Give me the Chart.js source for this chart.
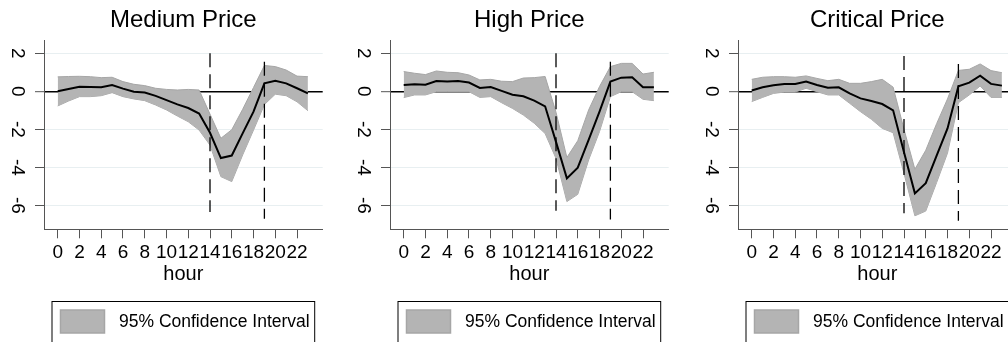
<!DOCTYPE html>
<html>
<head>
<meta charset="utf-8">
<title>Price response by hour</title>
<script src="https://cdn.jsdelivr.net/npm/chart.js@4/dist/chart.umd.min.js"></script>
<style>
  html, body { margin: 0; padding: 0; background: #fff; width: 1008px; height: 342px; overflow: hidden; }
  .panel { position: absolute; top: 0; }
</style>
</head>
<body>
<canvas class="panel" id="medium-chart" width="346" height="342" style="left:0px"></canvas>
<canvas class="panel" id="high-chart" width="346" height="342" style="left:346px"></canvas>
<canvas class="panel" id="critical-chart" width="346" height="342" style="left:694px"></canvas>
<script>
'use strict';

const hours = [0, 1, 2, 3, 4, 5, 6, 7, 8, 9, 10, 11, 12, 13, 14, 15, 16, 17, 18, 19, 20, 21, 22, 23];
const xTicks = [0, 2, 4, 6, 8, 10, 12, 14, 16, 18, 20, 22];
const yTicks = [-6, -4, -2, 0, 2];
const cutHours = [14, 19];

const mediumMean = [0.00, 0.12, 0.24, 0.23, 0.21, 0.33, 0.14, -0.02, -0.06, -0.24, -0.46, -0.69, -0.88, -1.17, -2.18, -3.51, -3.38, -2.21, -1.07, 0.42, 0.56, 0.42, 0.16, -0.11];
const mediumUpper = [0.76, 0.78, 0.79, 0.77, 0.72, 0.74, 0.51, 0.37, 0.30, 0.16, 0.10, 0.07, 0.10, 0.07, -1.20, -2.47, -2.02, -0.95, 0.20, 1.36, 1.30, 1.12, 0.80, 0.77];
const mediumLower = [-0.77, -0.51, -0.28, -0.28, -0.23, -0.07, -0.28, -0.40, -0.49, -0.72, -0.98, -1.30, -1.60, -2.04, -2.83, -4.49, -4.75, -3.35, -2.04, -0.70, -0.15, -0.23, -0.55, -1.02];
const mediumCutTop = [2.0, 1.55];
const mediumCutBottom = [-6.35, -6.7];

const highMean = [0.33, 0.37, 0.35, 0.54, 0.51, 0.54, 0.46, 0.18, 0.23, 0.02, -0.18, -0.26, -0.49, -0.79, -2.66, -4.58, -4.02, -2.56, -1.07, 0.51, 0.72, 0.74, 0.21, 0.21];
const highUpper = [1.04, 0.95, 0.88, 1.07, 1.00, 0.98, 0.86, 0.60, 0.63, 0.53, 0.51, 0.70, 0.72, 0.78, -1.10, -3.48, -2.60, -0.98, 0.25, 1.30, 1.47, 1.47, 0.91, 1.00];
const highLower = [-0.33, -0.19, -0.19, -0.02, -0.02, -0.02, -0.02, -0.32, -0.28, -0.60, -0.90, -1.25, -1.68, -2.22, -3.53, -5.80, -5.42, -3.61, -2.12, -0.28, -0.02, -0.02, -0.42, -0.49];
const highCutTop = [2.0, 1.56];
const highCutBottom = [-6.28, -6.74];

const criticalMean = [0.04, 0.21, 0.32, 0.39, 0.39, 0.51, 0.33, 0.19, 0.21, -0.11, -0.37, -0.51, -0.67, -1.00, -3.20, -5.37, -4.83, -3.38, -1.95, 0.26, 0.46, 0.82, 0.39, 0.30];
const criticalUpper = [0.63, 0.74, 0.77, 0.77, 0.74, 0.81, 0.68, 0.56, 0.63, 0.42, 0.42, 0.51, 0.63, 0.22, -2.00, -4.10, -3.10, -1.70, -0.40, 1.10, 1.16, 1.44, 1.09, 0.98];
const criticalLower = [-0.54, -0.32, -0.11, -0.04, -0.04, 0.16, -0.02, -0.19, -0.19, -0.63, -1.07, -1.47, -1.95, -2.18, -4.32, -6.55, -6.30, -4.80, -3.25, -0.60, -0.19, 0.28, -0.32, -0.32];
const criticalCutTop = [1.86, 1.44];
const criticalCutBottom = [-6.42, -6.81];

const fontFamily = '"Liberation Sans", Arial, sans-serif';
const bandColor = '#b4b4b4';
const bandEdge = '#a6a6a6';
const axisColor = '#555';

const toPoints = function(values){
  return hours.map((h, i) => ({x: h, y: values[i]}));
};

// stata-style legend: framed swatch + label under the plot
const legendBox = {
  id: 'legendBox',
  afterDraw(chart){
    const {ctx, chartArea} = chart;
    const band = chart.data.datasets.find(ds => ds.label);
    const left = chartArea.left;
    ctx.save();
    ctx.strokeStyle = '#000';
    ctx.lineWidth = 1;
    ctx.strokeRect(left + 8, 301.5, chartArea.right - left - 16, 60);
    ctx.fillStyle = band.backgroundColor;
    ctx.fillRect(left + 16.5, 310, 44, 23);
    ctx.strokeStyle = band.borderColor;
    ctx.lineWidth = 1.5;
    ctx.strokeRect(left + 16.5, 310, 44, 23);
    ctx.fillStyle = '#000';
    ctx.font = '17.5px ' + fontFamily;
    ctx.textBaseline = 'middle';
    ctx.textAlign = 'left';
    ctx.fillText(band.label, left + 75, 322.5);
    ctx.restore();
  }
};

const makePanel = function(canvasId, title, mean, upper, lower, cutTop, cutBottom){
  const cutSets = cutHours.map((h, k) => ({
    data: [{x: h, y: cutTop[k]}, {x: h, y: cutBottom[k]}],
    borderColor: '#000',
    borderWidth: 1.3,
    borderDash: [14, 7],
    pointRadius: 0,
    fill: false,
    order: 1
  }));

  new Chart(document.getElementById(canvasId), {
    type: 'line',
    data: {
      datasets: [{
        data: toPoints(mean),
        borderColor: '#000',
        borderWidth: 2,
        pointRadius: 0,
        fill: false,
        order: 0
      },
      ...cutSets,
      {
        label: '95% Confidence Interval',
        data: toPoints(upper),
        borderColor: bandEdge,
        borderWidth: 1,
        backgroundColor: bandColor,
        pointRadius: 0,
        fill: '+1',
        order: 2
      }, {
        data: toPoints(lower),
        borderColor: bandEdge,
        borderWidth: 1,
        pointRadius: 0,
        fill: false,
        order: 2
      }]
    },
    options: {
      responsive: false,
      animation: false,
      events: [],
      layout: { padding: { left: 0, right: 23.3, top: 0, bottom: 0 } },
      plugins: {
        legend: { display: false },
        tooltip: { enabled: false },
        title: {
          display: true,
          text: title,
          color: '#000',
          fullSize: false,
          font: { family: fontFamily, size: 24, weight: 'normal', lineHeight: 1.2 },
          padding: { top: 5.5, bottom: 5.7 }
        }
      },
      scales: {
        x: {
          type: 'linear',
          min: -1.26,
          max: 24.36,
          afterBuildTicks: scale => { scale.ticks = xTicks.map(v => ({value: v})); },
          afterFit: scale => { scale.height = 112.7; },
          border: { display: true, color: axisColor, width: 1 },
          grid: { drawOnChartArea: false, drawTicks: true, tickLength: 9, tickColor: axisColor, tickWidth: 1 },
          ticks: {
            autoSkip: false,
            maxRotation: 0,
            minRotation: 0,
            padding: 2.6,
            color: '#000',
            font: { family: fontFamily, size: 19 }
          },
          title: {
            display: true,
            text: 'hour',
            color: '#000',
            font: { family: fontFamily, size: 20 },
            padding: { top: 0, bottom: 55.2 }
          }
        },
        y: {
          type: 'linear',
          min: -7.26,
          max: 2.7,
          afterBuildTicks: scale => { scale.ticks = yTicks.map(v => ({value: v})); },
          afterFit: scale => { scale.width = 44; },
          border: { display: true, color: axisColor, width: 1 },
          grid: {
            drawTicks: true,
            tickLength: 9,
            tickColor: axisColor,
            tickWidth: 1,
            color: c => (c.tick && c.tick.value === 0 ? '#000' : '#e8eff1'),
            lineWidth: c => (c.tick && c.tick.value === 0 ? 1.4 : 1)
          },
          ticks: {
            minRotation: -90,
            crossAlign: 'center',
            padding: 9,
            color: '#000',
            font: { family: fontFamily, size: 19 }
          }
        }
      }
    },
    plugins: [legendBox]
  });
};

makePanel('medium-chart', 'Medium Price', mediumMean, mediumUpper, mediumLower, mediumCutTop, mediumCutBottom);
makePanel('high-chart', 'High Price', highMean, highUpper, highLower, highCutTop, highCutBottom);
makePanel('critical-chart', 'Critical Price', criticalMean, criticalUpper, criticalLower, criticalCutTop, criticalCutBottom);
</script>
</body>
</html>
